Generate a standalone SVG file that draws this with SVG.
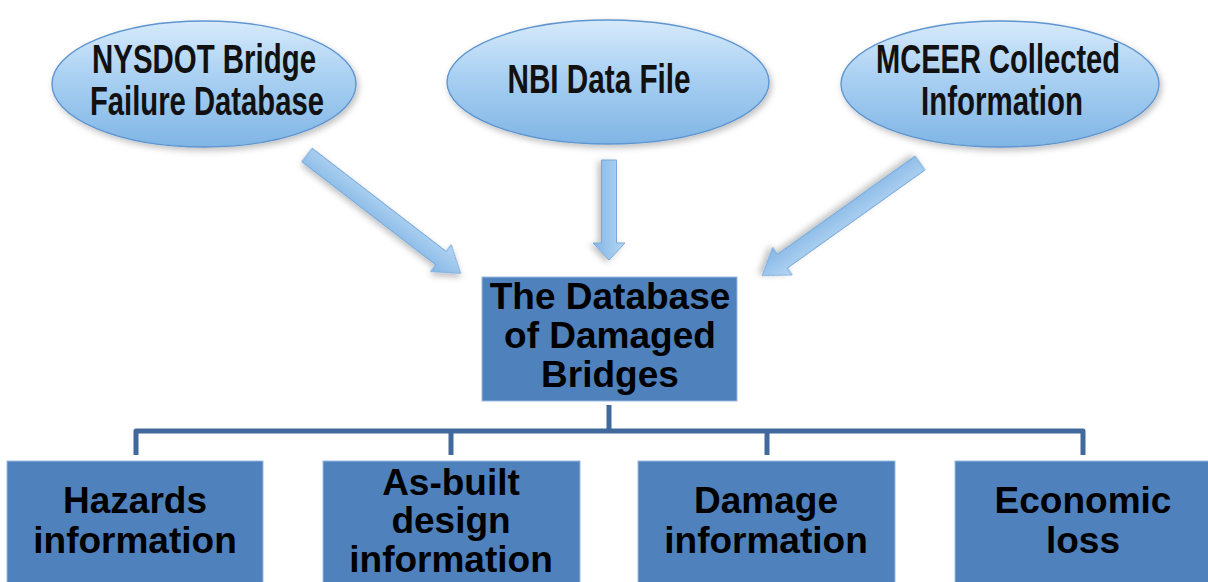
<svg xmlns="http://www.w3.org/2000/svg" width="1208" height="582" viewBox="0 0 1208 582">
  <defs>
    <linearGradient id="ellGrad" x1="0" y1="0" x2="0" y2="1">
      <stop offset="0" stop-color="#d6eafb"/>
      <stop offset="0.45" stop-color="#a9d0f2"/>
      <stop offset="1" stop-color="#80b5e5"/>
    </linearGradient>
    <linearGradient id="arrGrad" x1="0" y1="0" x2="0" y2="1">
      <stop offset="0" stop-color="#b5d6f4"/>
      <stop offset="1" stop-color="#84b6e4"/>
    </linearGradient>
    <filter id="shadow" x="-20%" y="-20%" width="140%" height="150%">
      <feDropShadow dx="2" dy="3" stdDeviation="3" flood-color="#000" flood-opacity="0.25"/>
    </filter>
  </defs>
  <style>
    .ell { fill: url(#ellGrad); stroke: #5f96d0; stroke-width: 1.4; filter: url(#shadow); }
    .etxt { font-family: "Liberation Sans", Arial, sans-serif; font-weight: bold; font-size: 40px; fill: #111; text-anchor: middle; }
    .box { fill: #4f81bd; stroke: #9bb9de; stroke-width: 1; }
    .btxt { font-family: "Liberation Sans", Arial, sans-serif; font-weight: bold; font-size: 37px; fill: #000; text-anchor: middle; }
    .arr { fill: url(#arrGrad); stroke: #79aadb; stroke-width: 1; filter: url(#shadow); }
    .conn { fill: none; stroke: #41699b; stroke-width: 5; stroke-linejoin: round; }
  </style>
  <rect width="1208" height="582" fill="#ffffff"/>

  <g id="connectors">
    <path class="arr" transform="translate(307,155) rotate(37.6)" d="M0,-8.5 L169,-8.5 L169,-17 L194,0 L169,17 L169,8.5 L0,8.5 Z"/>
    <path class="arr" transform="translate(609,160) rotate(90)" d="M0,-7.5 L83,-7.5 L83,-16 L100,0 L83,16 L83,7.5 L0,7.5 Z"/>
    <path class="arr" transform="translate(920,163) rotate(144.5)" d="M0,-8.5 L169,-8.5 L169,-17 L194,0 L169,17 L169,8.5 L0,8.5 Z"/>
    <path class="conn" d="M609,405 L609,431"/>
    <path class="conn" d="M136,455 L136,431 L1083,431 L1083,455"/>
    <path class="conn" d="M451,431 L451,455"/>
    <path class="conn" d="M767,431 L767,455"/>
  </g>

  <g id="node-nysdot">
    <ellipse class="ell" cx="204" cy="84" rx="152" ry="63"/>
    <text class="etxt" x="204" y="73" textLength="224" lengthAdjust="spacingAndGlyphs">NYSDOT Bridge</text>
    <text class="etxt" x="207" y="115" textLength="234" lengthAdjust="spacingAndGlyphs">Failure Database</text>
  </g>
  <g id="node-nbi">
    <ellipse class="ell" cx="608" cy="82" rx="161" ry="62"/>
    <text class="etxt" x="599" y="93" textLength="183" lengthAdjust="spacingAndGlyphs">NBI Data File</text>
  </g>
  <g id="node-mceer">
    <ellipse class="ell" cx="1000" cy="84" rx="159" ry="63"/>
    <text class="etxt" x="998" y="73" textLength="244" lengthAdjust="spacingAndGlyphs">MCEER Collected</text>
    <text class="etxt" x="1002" y="115" textLength="162" lengthAdjust="spacingAndGlyphs">Information</text>
  </g>

  <g id="node-database">
    <rect class="box" x="482" y="277" width="255" height="124"/>
    <text class="btxt" x="610" y="309">The Database</text>
    <text class="btxt" x="610" y="348">of Damaged</text>
    <text class="btxt" x="610" y="387">Bridges</text>
  </g>

  <g id="node-hazards">
    <rect class="box" x="7" y="461" width="256" height="130"/>
    <text class="btxt" x="135" y="513">Hazards</text>
    <text class="btxt" x="135" y="553">information</text>
  </g>
  <g id="node-asbuilt">
    <rect class="box" x="323" y="461" width="257" height="130"/>
    <text class="btxt" x="451" y="495">As-built</text>
    <text class="btxt" x="451" y="533">design</text>
    <text class="btxt" x="451" y="572">information</text>
  </g>
  <g id="node-damage">
    <rect class="box" x="638" y="461" width="257" height="130"/>
    <text class="btxt" x="766" y="513">Damage</text>
    <text class="btxt" x="766" y="553">information</text>
  </g>
  <g id="node-economic">
    <rect class="box" x="955" y="461" width="256" height="130"/>
    <text class="btxt" x="1083" y="513">Economic</text>
    <text class="btxt" x="1083" y="553">loss</text>
  </g>
</svg>
